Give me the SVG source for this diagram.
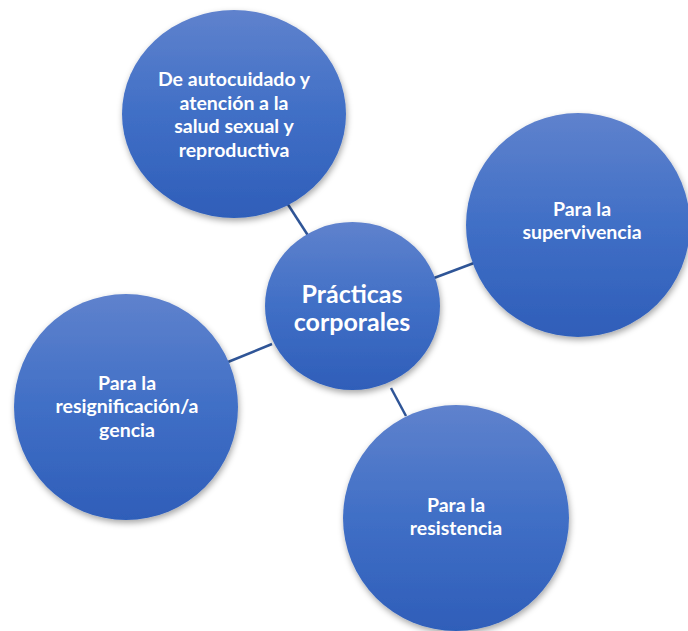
<svg xmlns="http://www.w3.org/2000/svg" width="688" height="631" viewBox="0 0 688 631">
<defs>
<linearGradient id="g" x1="0" y1="0" x2="0" y2="1">
<stop offset="0" stop-color="#5F82CD"/>
<stop offset="0.5" stop-color="#406FC6"/>
<stop offset="1" stop-color="#2F5EB9"/>
</linearGradient>
<filter id="sh" x="-20%" y="-20%" width="140%" height="140%">
<feDropShadow dx="1" dy="3" stdDeviation="3" flood-color="#000" flood-opacity="0.35"/>
</filter>
<style>
.n{fill:url(#g);filter:url(#sh)}
.t{fill:#fff;font-family:Lato,"Open Sans","Liberation Sans",sans-serif;font-weight:bold;font-size:19.5px;text-anchor:middle}
.c{font-size:25px}
.l{stroke:#2F5597;stroke-width:2.5;fill:none}
</style>
</defs>
<rect width="688" height="631" fill="#fff"/>
<g id="connectors">
<line class="l" x1="287" y1="203" x2="309" y2="237"/>
<line class="l" x1="434" y1="278" x2="474" y2="263"/>
<line class="l" x1="391" y1="388" x2="406" y2="416"/>
<line class="l" x1="228" y1="362" x2="272" y2="344"/>
</g>
<g id="n-top">
<ellipse class="n" cx="234" cy="114" rx="112" ry="104"/>
<text class="t" x="234" y="86">De autocuidado y</text>
<text class="t" x="234" y="110">atención a la</text>
<text class="t" x="234" y="133">salud sexual y</text>
<text class="t" x="234" y="157">reproductiva</text>
</g>
<g id="n-right">
<ellipse class="n" cx="578" cy="225" rx="112" ry="112"/>
<text class="t" x="582" y="216">Para la</text>
<text class="t" x="582" y="239">supervivencia</text>
</g>
<g id="n-left">
<ellipse class="n" cx="126" cy="407" rx="112" ry="113"/>
<text class="t" x="127" y="390">Para la</text>
<text class="t" x="127" y="413">resignificación/a</text>
<text class="t" x="127" y="437">gencia</text>
</g>
<g id="n-bottom">
<ellipse class="n" cx="456" cy="518" rx="113" ry="113"/>
<text class="t" x="456" y="512">Para la</text>
<text class="t" x="456" y="535">resistencia</text>
</g>
<g id="n-center">
<ellipse class="n" cx="352.5" cy="306" rx="87.5" ry="84"/>
<text class="t c" x="352" y="303">Prácticas</text>
<text class="t c" x="352" y="331">corporales</text>
</g>
</svg>
